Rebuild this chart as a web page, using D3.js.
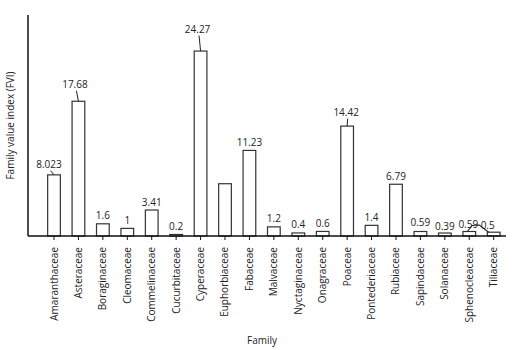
<!DOCTYPE html>
<html>
<head>
<meta charset="utf-8">
<script src="https://cdn.jsdelivr.net/npm/d3@7"></script>
<style>
  html, body { margin: 0; padding: 0; background: #fff; }
  svg { display: block; font-family: "Open Sans", "Noto Sans", sans-serif; }
</style>
</head>
<body>
<svg id="chart" width="524" height="350"></svg>
<script>
// ---- data ----
const families = ["Amaranthaceae","Asteraceae","Boraginaceae","Cleomaceae","Commelinaceae",
  "Cucurbitaceae","Cyperaceae","Euphorbiaceae","Fabaceae","Malvaceae","Nyctaginaceae",
  "Onagraceae","Poaceae","Pontederiaceae","Rubiaceae","Sapindaceae","Solanaceae",
  "Sphenocleaceae","Tiliaceae"];
const fviValues = [8.023, 17.68, 1.6, 1, 3.41, 0.2, 24.27, 6.86, 11.23, 1.2, 0.4, 0.6,
  14.42, 1.4, 6.79, 0.59, 0.39, 0.59, 0.5];
const valueLabels = ["8.023","17.68","1.6","1","3.41","0.2","24.27","","11.23","1.2","0.4","0.6",
  "14.42","1.4","6.79","0.59","0.39","0.59","0.5"];
const yDomain = [0, 29];
const xTitle = "Family";
const yTitle = "Family value index (FVI)";

// ---- annotation layout (label offsets from bar top / centre, in px) ----
const labelLayout = {
  "Amaranthaceae": {dx: -5, dy: -6.7, leader: true},
  "Asteraceae": {dx: -3.5, dy: -13, leader: true},
  "Cyperaceae": {dx: -3, dy: -18, leader: true},
  "Poaceae": {dx: -1, dy: -10, leader: true},
  "Sapindaceae": {dx: 0, dy: -6},
  "Solanaceae": {dx: 0, dy: -2.7},
  "Sphenocleaceae": {dx: -1, dy: -3.5},
  "Tiliaceae": {dx: -6, dy: -3.5}
};

const svg = d3.select("#chart");
const x = d3.scaleBand().domain(families).range([41.3, 506.4]).paddingInner(0.48).paddingOuter(0.26);
const y = d3.scaleLinear().domain(yDomain).range([236, 15]);
const axisLeftX = 28, axisRightX = 506;

// bars
svg.append("g").selectAll("rect").data(families).join("rect")
  .attr("x", d => x(d))
  .attr("y", (d, i) => y(fviValues[i]))
  .attr("width", x.bandwidth())
  .attr("height", (d, i) => y(0) - y(fviValues[i]))
  .attr("fill", "#fff")
  .attr("stroke", "#333")
  .attr("stroke-width", 1.2);

// value labels
const lab = svg.append("g").attr("font-size", 10).attr("fill", "#222").attr("text-anchor", "middle");
families.forEach((f, i) => {
  if (!valueLabels[i]) return;
  const cx = x(f) + x.bandwidth() / 2;
  const top = y(fviValues[i]);
  const L = labelLayout[f] || {dx: 0, dy: -4.5};
  lab.append("text").attr("x", cx + L.dx).attr("y", top + L.dy).text(valueLabels[i]);
  if (L.leader) {
    svg.append("line")
      .attr("x1", cx + L.dx + 1.5).attr("y1", top + L.dy + 2.5)
      .attr("x2", cx).attr("y2", top)
      .attr("stroke", "#222").attr("stroke-width", 1);
  }
});
// leader linking Sphenocleaceae and Tiliaceae labels
{
  const a = x("Sphenocleaceae") + x.bandwidth() / 2;
  const b = x("Tiliaceae") + x.bandwidth() / 2;
  const ta = y(fviValues[families.indexOf("Sphenocleaceae")]);
  const tb = y(fviValues[families.indexOf("Tiliaceae")]);
  const hy = ta - 6;
  svg.append("path")
    .attr("d", `M${a - 2},${ta} L${a + 3},${hy} L${a + 10},${hy - 0.5} L${b - 5},${tb}`)
    .attr("fill", "none").attr("stroke", "#222").attr("stroke-width", 1.1);
}

// axes lines
svg.append("line").attr("x1", axisLeftX).attr("x2", axisLeftX).attr("y1", y(yDomain[1])).attr("y2", y(0))
  .attr("stroke", "#111").attr("stroke-width", 1.5);
svg.append("line").attr("x1", axisLeftX).attr("x2", axisRightX).attr("y1", y(0)).attr("y2", y(0))
  .attr("stroke", "#111").attr("stroke-width", 1.5);

// x axis ticks and labels
const xAxis = svg.append("g").attr("transform", `translate(0,${y(0)})`)
  .call(d3.axisBottom(x).tickSize(4).tickSizeOuter(0));
xAxis.select(".domain").remove();
xAxis.selectAll(".tick line").attr("stroke", "#111");
xAxis.selectAll(".tick text")
  .attr("font-family", "'Open Sans', 'Noto Sans', sans-serif")
  .attr("font-size", 10)
  .attr("fill", "#222")
  .attr("transform", "rotate(-90)")
  .attr("text-anchor", "end")
  .attr("x", -11)
  .attr("y", 0)
  .attr("dy", "0.35em");

// titles
svg.append("text").attr("x", 262).attr("y", 344).attr("text-anchor", "middle")
  .attr("font-size", 10).attr("fill", "#222").text(xTitle);
svg.append("text").attr("transform", "translate(13.5,125.5) rotate(-90)").attr("text-anchor", "middle")
  .attr("font-size", 10).attr("fill", "#222").text(yTitle);
</script>
</body>
</html>
